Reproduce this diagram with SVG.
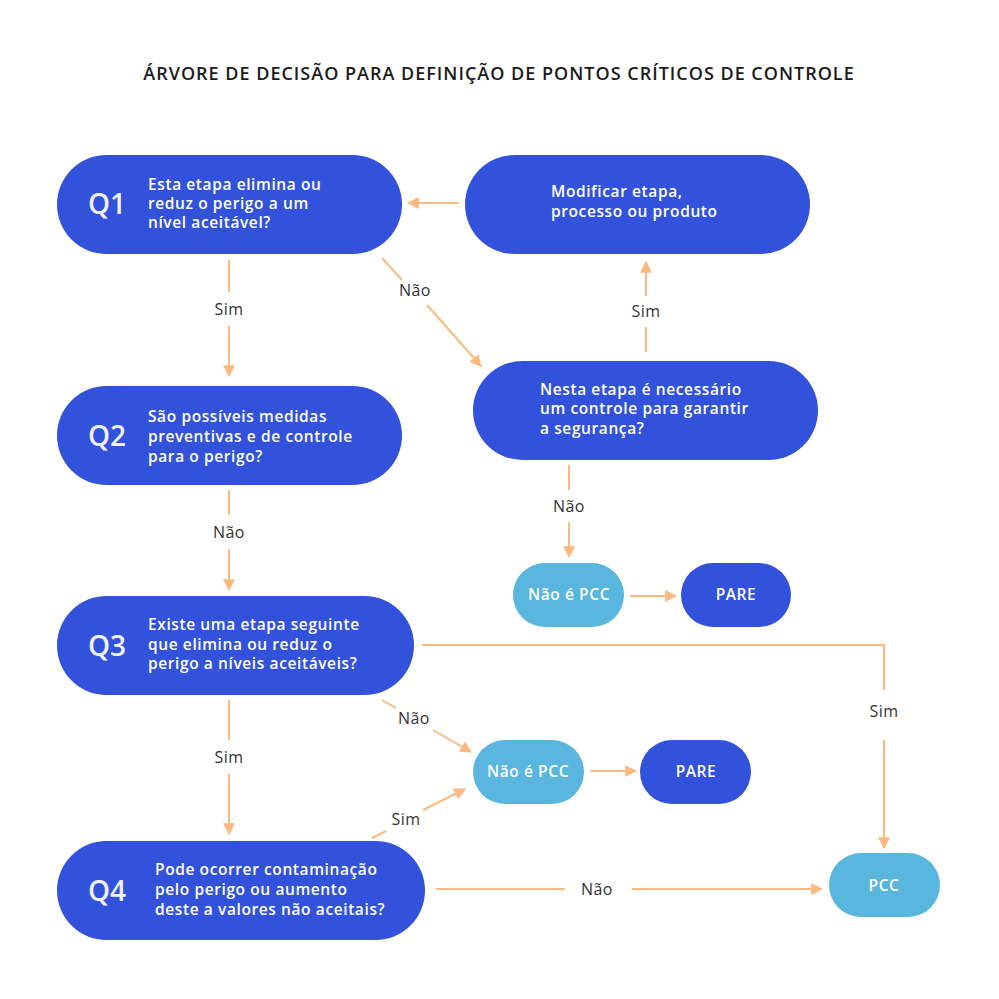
<svg xmlns="http://www.w3.org/2000/svg" width="999" height="999" viewBox="0 0 999 999">
<style>
.dk{fill:#3352DB}
.lt{fill:#59B6DE}
.t{font-family:"Open Sans","Liberation Sans",sans-serif;font-size:15.5px;fill:#fff;font-weight:600;letter-spacing:0.6px}
.q{font-family:"Open Sans","Liberation Sans",sans-serif;font-size:28px;fill:#fff;font-weight:600;opacity:0.92}
.c{text-anchor:middle}
.lbl{font-family:"Open Sans","Liberation Sans",sans-serif;font-size:16px;fill:#333;text-anchor:middle;letter-spacing:0.4px}
.ln{stroke:#FDB97F;stroke-width:2;fill:none}
.title{font-family:"Open Sans","Liberation Sans",sans-serif;font-size:18px;fill:#1a1a1a;text-anchor:middle;font-weight:600;letter-spacing:1px}
</style>
<defs>
<marker id="ah" viewBox="0 0 10 10" refX="9" refY="5" markerWidth="6" markerHeight="6" orient="auto" markerUnits="strokeWidth">
<path d="M0,0 L10,5 L0,10 z" fill="#FDB97F"/>
</marker>
</defs>
<rect width="999" height="999" fill="#fff"/>
<text class="title" x="499" y="80">ÁRVORE DE DECISÃO PARA DEFINIÇÃO DE PONTOS CRÍTICOS DE CONTROLE</text>

<g id="connectors">
<line class="ln" x1="459" y1="203" x2="408" y2="203" marker-end="url(#ah)"/>
<line class="ln" x1="382" y1="258" x2="402" y2="280"/>
<line class="ln" x1="427" y1="305" x2="481" y2="366" marker-end="url(#ah)"/>
<text class="lbl" x="415" y="296">Não</text>
<line class="ln" x1="646" y1="352" x2="646" y2="327"/>
<line class="ln" x1="646" y1="296" x2="646" y2="262" marker-end="url(#ah)"/>
<text class="lbl" x="646" y="317">Sim</text>
<line class="ln" x1="229" y1="260" x2="229" y2="292"/>
<line class="ln" x1="229" y1="326" x2="229" y2="376" marker-end="url(#ah)"/>
<text class="lbl" x="229" y="315">Sim</text>
<line class="ln" x1="229" y1="490" x2="229" y2="515"/>
<line class="ln" x1="229" y1="549" x2="229" y2="590" marker-end="url(#ah)"/>
<text class="lbl" x="229" y="538">Não</text>
<line class="ln" x1="569" y1="465" x2="569" y2="490"/>
<line class="ln" x1="569" y1="522" x2="569" y2="557" marker-end="url(#ah)"/>
<text class="lbl" x="569" y="512">Não</text>
<line class="ln" x1="630" y1="596" x2="676" y2="596" marker-end="url(#ah)"/>
<polyline class="ln" points="422,645 884,645 884,690"/>
<line class="ln" x1="884" y1="740" x2="884" y2="848" marker-end="url(#ah)"/>
<text class="lbl" x="884" y="717">Sim</text>
<line class="ln" x1="382" y1="700" x2="396" y2="708"/>
<line class="ln" x1="433" y1="730" x2="471" y2="752" marker-end="url(#ah)"/>
<text class="lbl" x="414" y="724">Não</text>
<line class="ln" x1="372" y1="838" x2="386" y2="831"/>
<line class="ln" x1="423" y1="810" x2="465" y2="789" marker-end="url(#ah)"/>
<text class="lbl" x="406" y="825">Sim</text>
<line class="ln" x1="229" y1="700" x2="229" y2="740"/>
<line class="ln" x1="229" y1="774" x2="229" y2="834" marker-end="url(#ah)"/>
<text class="lbl" x="229" y="763">Sim</text>
<line class="ln" x1="590" y1="771" x2="636" y2="771" marker-end="url(#ah)"/>
<line class="ln" x1="436" y1="889" x2="565" y2="889"/>
<line class="ln" x1="632" y1="889" x2="822" y2="889" marker-end="url(#ah)"/>
<text class="lbl" x="597" y="895">Não</text>
</g>

<g id="q1">
<rect class="dk" x="57" y="155" width="345" height="99" rx="49.5"/>
<text class="q" x="88" y="214">Q1</text>
<text class="t" x="148" y="190">Esta etapa elimina ou</text>
<text class="t" x="148" y="209">reduz o perigo a um</text>
<text class="t" x="148" y="228">nível aceitável?</text>
</g>
<g id="modificar">
<rect class="dk" x="465" y="155" width="345" height="99" rx="49.5"/>
<text class="t" x="551" y="197">Modificar etapa,</text>
<text class="t" x="551" y="217">processo ou produto</text>
</g>
<g id="q2">
<rect class="dk" x="57" y="386" width="345" height="99" rx="49.5"/>
<text class="q" x="88" y="446">Q2</text>
<text class="t" x="148" y="422">São possíveis medidas</text>
<text class="t" x="148" y="442">preventivas e de controle</text>
<text class="t" x="148" y="462">para o perigo?</text>
</g>
<g id="nesta">
<rect class="dk" x="473" y="361" width="345" height="99" rx="49.5"/>
<text class="t" x="540" y="395">Nesta etapa é necessário</text>
<text class="t" x="540" y="414">um controle para garantir</text>
<text class="t" x="540" y="434">a segurança?</text>
</g>
<g id="naopcc1">
<rect class="lt" x="513" y="563" width="111" height="64" rx="32"/>
<text class="t c" x="569" y="600">Não é PCC</text>
</g>
<g id="pare1">
<rect class="dk" x="681" y="563" width="110" height="64" rx="32"/>
<text class="t c" x="736" y="600">PARE</text>
</g>
<g id="q3">
<rect class="dk" x="57" y="596" width="357" height="99" rx="49.5"/>
<text class="q" x="88" y="656">Q3</text>
<text class="t" x="148" y="630">Existe uma etapa seguinte</text>
<text class="t" x="148" y="650">que elimina ou reduz o</text>
<text class="t" x="148" y="669">perigo a níveis aceitáveis?</text>
</g>
<g id="naopcc2">
<rect class="lt" x="473" y="740" width="111" height="64" rx="32"/>
<text class="t c" x="528" y="777">Não é PCC</text>
</g>
<g id="pare2">
<rect class="dk" x="640" y="740" width="111" height="64" rx="32"/>
<text class="t c" x="696" y="777">PARE</text>
</g>
<g id="q4">
<rect class="dk" x="57" y="841" width="368" height="99" rx="49.5"/>
<text class="q" x="88" y="901">Q4</text>
<text class="t" x="155" y="875">Pode ocorrer contaminação</text>
<text class="t" x="155" y="895">pelo perigo ou aumento</text>
<text class="t" x="155" y="915">deste a valores não aceitais?</text>
</g>
<g id="pcc">
<rect class="lt" x="829" y="853" width="111" height="64" rx="32"/>
<text class="t c" x="884" y="891">PCC</text>
</g>
</svg>
